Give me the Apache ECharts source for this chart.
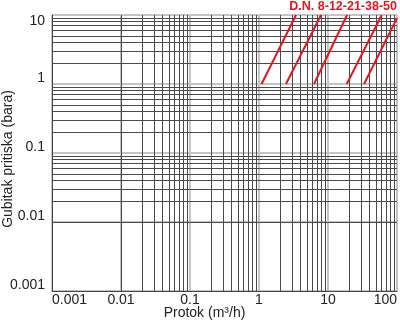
<!DOCTYPE html>
<html><head><meta charset="utf-8">
<script src="https://cdn.jsdelivr.net/npm/echarts@6/dist/echarts.min.js"></script>
<style>html,body{margin:0;padding:0;background:#fff}#c{width:400px;height:321px}</style>
</head><body><div id="c"></div>
<script>
// Tick labels (decades)
const xTickLabels = ['0.001', '0.01', '0.1', '1', '10', '100'];
const yTickLabels = ['0.001', '0.01', '0.1', '1', '10'];
// Series: D.N. lines (flow m3/h, pressure loss bar)
const seriesNames = ['D.N. 8', 'D.N. 12', 'D.N. 21', 'D.N. 38', 'D.N. 50'];
const flowStart = [1.09, 2.46, 6.27, 18.7, 33.3];
const flowEnd   = [3.44, 7.92, 18.9, 60, 100];
const lossStart = [1, 1, 1, 1, 1];
const lossEnd   = [10, 10, 10, 10, 9];
const minorSteps = [2, 3, 4, 5, 6, 7, 8, 9];
const titleText = 'D.N. 8-12-21-38-50';
const axisNameX = 'Protok (m³/h)';
const axisNameY = 'Gubitak pritiska (bara)';

const FONT = 'Liberation Sans, Arial, sans-serif';
const xVals = xTickLabels.map(Number);
const yVals = yTickLabels.map(Number);

function minorLines(vals, key) {
  const out = [];
  for (let i = 0; i < vals.length - 1; i++) {
    minorSteps.forEach(m => { const o = {}; o[key] = +(vals[i] * m).toPrecision(6); out.push(o); });
  }
  return out;
}
function fmt(labels, vals) {
  return v => {
    let best = 0, bd = Infinity;
    vals.forEach((t, i) => { const d = Math.abs(Math.log10(v) - Math.log10(t)); if (d < bd) { bd = d; best = i; } });
    return labels[best];
  };
}

const chart = echarts.init(document.getElementById('c'), null, { renderer: 'canvas' });
const series = [{
  type: 'line', data: [], silent: true, animation: false,
  markLine: {
    silent: true, animation: false, symbol: ['none', 'none'],
    label: { show: false },
    lineStyle: { color: '#4a4a4a', width: 1, type: 'solid' },
    emphasis: { disabled: true },
    data: minorLines(xVals, 'xAxis').concat(minorLines(yVals, 'yAxis'))
  }
}];
seriesNames.forEach((n, i) => {
  series.push({
    name: n, type: 'line', showSymbol: false, symbol: 'none', animation: false,
    lineStyle: { color: '#e3161d', width: 2 },
    data: [[flowStart[i], lossStart[i]], [flowEnd[i], lossEnd[i]]],
    z: 5
  });
});

chart.setOption({
  animation: false,
  title: {
    text: titleText, right: 3, top: 0, padding: 0,
    textStyle: { color: '#e3161d', fontSize: 12.5, fontWeight: 'bold', fontFamily: FONT }
  },
  grid: { left: 52, right: 3, top: 15, bottom: 30, containLabel: false, outerBoundsMode: 'none',
    show: true, borderColor: '#444', borderWidth: 1 },
  xAxis: {
    type: 'log', logBase: 10, min: xVals[0], max: xVals[xVals.length - 1],
    name: axisNameX, nameLocation: 'middle', nameGap: 15, nameMoveOverlap: false,
    nameTextStyle: { fontSize: 14, color: '#222', fontFamily: FONT, padding: [0, 40, 0, 0] },
    axisLine: { show: true, lineStyle: { color: '#444', width: 1 } },
    axisTick: { show: false },
    axisLabel: { fontSize: 14, color: '#222', fontFamily: FONT, margin: 2, lineHeight: 14,
      alignMinLabel: 'left', alignMaxLabel: 'right', formatter: fmt(xTickLabels, xVals) },
    splitLine: { show: true, lineStyle: { color: '#c4c4c4', width: 2 } }
  },
  yAxis: {
    type: 'log', logBase: 10, min: yVals[0], max: yVals[yVals.length - 1],
    name: axisNameY, nameLocation: 'middle', nameGap: 37, nameMoveOverlap: false,
    nameTextStyle: { fontSize: 14, color: '#222', fontFamily: FONT, padding: [0, 12, 0, 0] },
    axisLine: { show: true, lineStyle: { color: '#444', width: 1 } },
    axisTick: { show: false },
    axisLabel: { fontSize: 14, color: '#222', fontFamily: FONT, margin: 7, lineHeight: 12,
      verticalAlign: 'bottom', verticalAlignMaxLabel: 'top', formatter: fmt(yTickLabels, yVals) },
    splitLine: { show: true, lineStyle: { color: '#c4c4c4', width: 2 } }
  },
  series: series
});
</script></body></html>
